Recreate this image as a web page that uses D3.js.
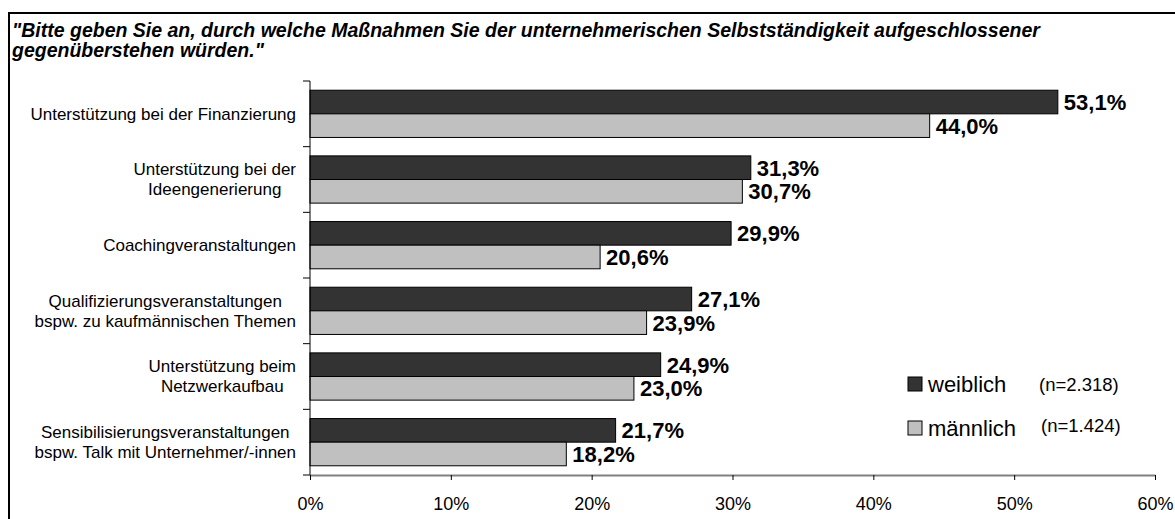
<!DOCTYPE html>
<html>
<head>
<meta charset="utf-8">
<script src="https://cdn.jsdelivr.net/npm/d3@7"></script>
<style>
  body { margin: 0; background: #fff; }
  text { font-family: "Liberation Sans", Arial, sans-serif; }
</style>
</head>
<body>
<div id="chart"></div>
<script>
// data
const titleLines = [
  "\"Bitte geben Sie an, durch welche Maßnahmen Sie der unternehmerischen Selbstständigkeit aufgeschlossener",
  "gegenüberstehen würden.\""
];
const categories = [
  ["Unterstützung bei der Finanzierung"],
  ["Unterstützung bei der", "Ideengenerierung"],
  ["Coachingveranstaltungen"],
  ["Qualifizierungsveranstaltungen", "bspw. zu kaufmännischen Themen"],
  ["Unterstützung beim", "Netzwerkaufbau"],
  ["Sensibilisierungsveranstaltungen", "bspw. Talk mit Unternehmer/-innen"]
];
const seriesNames = ["weiblich", "männlich"];
const seriesN = ["(n=2.318)", "(n=1.424)"];
const weiblich = [53.1, 31.3, 29.9, 27.1, 24.9, 21.7];
const maennlich = [44.0, 30.7, 20.6, 23.9, 23.0, 18.2];
const xTicks = [0, 10, 20, 30, 40, 50, 60];
const colors = ["#333333", "#c0c0c0"];

const width = 1175;
const height = 519;
const margin = { top: 81, right: 20, bottom: 44, left: 310 };

const svg = d3.select("#chart").append("svg")
  .attr("width", width)
  .attr("height", height);

// frame
svg.append("rect")
  .attr("x", 9).attr("y", 13)
  .attr("width", width + 20).attr("height", height + 20)
  .attr("fill", "none").attr("stroke", "#000").attr("stroke-width", 2);

// title
svg.append("g").selectAll("text")
  .data(titleLines)
  .join("text")
  .attr("x", 12)
  .attr("y", (d, i) => 37 + i * 20)
  .attr("font-size", 19.5)
  .attr("font-weight", "bold")
  .attr("font-style", "italic")
  .text(d => d);

const x = d3.scaleLinear().domain([0, 60]).range([margin.left, width - margin.right]);
const y = d3.scaleBand().domain(d3.range(categories.length))
  .range([margin.top, height - margin.bottom]);
const ySub = d3.scaleBand().domain([0, 1]).range([0, y.bandwidth()])
  .paddingInner(0).paddingOuter(0.39);

const rows = categories.map((c, i) => ({ i, label: c, values: [weiblich[i], maennlich[i]] }));

// bars
const groups = svg.append("g").selectAll("g")
  .data(rows)
  .join("g")
  .attr("transform", d => `translate(0,${y(d.i)})`);

groups.selectAll("rect")
  .data(d => d.values.map((v, s) => ({ v, s })))
  .join("rect")
  .attr("x", x(0))
  .attr("y", d => ySub(d.s))
  .attr("width", d => x(d.v) - x(0))
  .attr("height", ySub.bandwidth())
  .attr("fill", d => colors[d.s])
  .attr("stroke", "#000")
  .attr("stroke-width", 1);

groups.selectAll("text.val")
  .data(d => d.values.map((v, s) => ({ v, s })))
  .join("text")
  .attr("class", "val")
  .attr("x", d => x(d.v) + 6)
  .attr("y", d => ySub(d.s) + ySub.bandwidth() / 2)
  .attr("dy", "0.36em")
  .attr("font-size", 22)
  .attr("font-weight", "bold")
  .text(d => d3.format(".1f")(d.v).replace(".", ",") + "%");

// category labels: centred lines, block right-aligned
const labelRight = 296;
const labelSize = 17;
groups.each(function (d) {
  const g = d3.select(this);
  const t = g.append("text").attr("font-size", labelSize);
  const widths = d.label.map(l => t.append("tspan").text(l).node().getComputedTextLength());
  t.remove();
  const cx = labelRight - d3.max(widths) / 2;
  const lh = 20;
  const y0 = y.bandwidth() / 2 - (d.label.length - 1) * lh / 2;
  g.append("text")
    .attr("font-size", labelSize)
    .attr("text-anchor", "middle")
    .selectAll("tspan")
    .data(d.label)
    .join("tspan")
    .attr("x", cx)
    .attr("y", (l, k) => y0 + k * lh)
    .attr("dy", "0.35em")
    .text(l => l);
});

// axes
const xAxis = svg.append("g")
  .attr("transform", `translate(0,${height - margin.bottom})`)
  .call(d3.axisBottom(x).tickValues(xTicks).tickSize(5).tickSizeOuter(0).tickFormat(d => d + "%"));
xAxis.select(".domain").attr("stroke", "#808080").attr("stroke-width", 2);
xAxis.selectAll(".tick line").attr("stroke", "#000");
xAxis.selectAll(".tick text")
  .attr("font-size", 18)
  .attr("fill", "#000")
  .attr("dy", "1.5em")
  .attr("font-family", "Liberation Sans, Arial, sans-serif");

const yAxis = svg.append("g").attr("transform", `translate(${margin.left},0)`);
yAxis.append("line")
  .attr("x1", 0).attr("x2", 0)
  .attr("y1", y.range()[0]).attr("y2", y.range()[1])
  .attr("stroke", "#000").attr("stroke-width", 1);
yAxis.selectAll("line.tk")
  .data(d3.range(categories.length + 1))
  .join("line")
  .attr("class", "tk")
  .attr("x1", -7).attr("x2", 0)
  .attr("y1", i => margin.top + i * y.step())
  .attr("y2", i => margin.top + i * y.step())
  .attr("stroke", "#000");

// legend
const legend = svg.append("g").selectAll("g")
  .data(seriesNames)
  .join("g")
  .attr("transform", (d, i) => `translate(908,${377 + i * 44})`);
legend.append("rect")
  .attr("width", 14).attr("height", 14)
  .attr("fill", (d, i) => colors[i])
  .attr("stroke", "#000");
legend.append("text")
  .attr("x", 20).attr("y", 15)
  .attr("font-size", 22)
  .text(d => d);
legend.append("text")
  .attr("x", (d, i) => i === 0 ? 131 : 133)
  .attr("y", (d, i) => i === 0 ? 14 : 11)
  .attr("font-size", 18.5)
  .text((d, i) => seriesN[i]);
</script>
</body>
</html>
